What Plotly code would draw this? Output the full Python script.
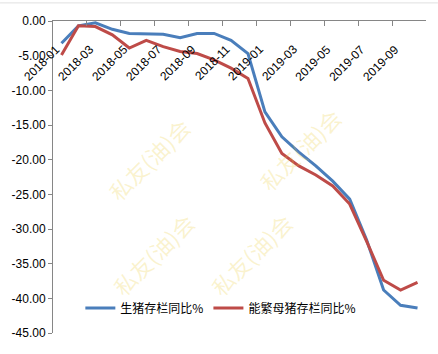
import plotly.graph_objects as go

months = ["2018-01", "2018-02", "2018-03", "2018-04", "2018-05", "2018-06",
          "2018-07", "2018-08", "2018-09", "2018-10", "2018-11", "2018-12",
          "2019-01", "2019-02", "2019-03", "2019-04", "2019-05", "2019-06",
          "2019-07", "2019-08", "2019-09", "2019-10"]
hog = [-3.2, -0.7, -0.25, -1.2, -1.8, -1.8, -1.9, -2.4, -1.8, -1.8, -2.8, -4.7,
       -13.1, -16.7, -18.9, -20.9, -23.1, -25.7, -31.6, -38.8, -41.0, -41.4]
sow = [-4.9, -0.7, -0.8, -2.0, -3.9, -2.8, -3.7, -4.4, -4.7, -5.6, -6.8, -8.3,
       -14.7, -19.1, -20.9, -22.2, -23.8, -26.4, -31.8, -37.4, -38.8, -37.7]
series_names = ["生猪存栏同比%", "能繁母猪存栏同比%"]
y_ticks = [0, -5, -10, -15, -20, -25, -30, -35, -40, -45]
y_labels = ["0.00", "-5.00", "-10.00", "-15.00", "-20.00", "-25.00",
            "-30.00", "-35.00", "-40.00", "-45.00"]
x_label_months = months[::2]

fig = go.Figure()
fig.add_trace(go.Scatter(x=months, y=hog, mode="lines", name=series_names[0],
                         line=dict(color="#4A7EBB", width=3)))
fig.add_trace(go.Scatter(x=months, y=sow, mode="lines", name=series_names[1],
                         line=dict(color="#BE4B48", width=3)))

# category labels below the top axis line, rotated like the original
for m in x_label_months:
    fig.add_annotation(text=m, x=m, y=0, xref="x", yref="y", showarrow=False,
                       textangle=-45, xanchor="right", yanchor="top",
                       xshift=4, yshift=-19,
                       font=dict(family="Liberation Sans", size=12, color="#000000"))

wm_font = dict(family="Noto Sans CJK SC", size=22, color="rgba(235,205,60,0.25)")
for (wx, wy) in [(0.121, 0.721), (0.662, 0.753), (0.134, 0.090), (0.668, 0.090)]:
    fig.add_annotation(text="私友(油)会", xref="paper", yref="paper", x=wx, y=wy,
                       showarrow=False, textangle=-45, font=wm_font)

fig.update_layout(
    width=438, height=354,
    margin=dict(l=53, r=12, t=21, b=21),
    paper_bgcolor="white", plot_bgcolor="white",
    font=dict(family="Liberation Sans", size=12, color="#000000"),
    showlegend=True,
    legend=dict(orientation="h", x=0.45, y=0.08, xanchor="center", yanchor="middle",
                bgcolor="rgba(0,0,0,0)", itemwidth=30,
                font=dict(family="Noto Sans CJK SC", size=12, color="#000000")),
    xaxis=dict(type="category", side="top", tickson="boundaries", dtick=2,
               ticks="inside", ticklen=5, tickcolor="#868686",
               showline=True, linecolor="#868686", linewidth=1,
               showgrid=False, zeroline=False, showticklabels=False,
               range=[-0.5, 21.5]),
    yaxis=dict(range=[-45, 0], tickvals=y_ticks, ticktext=y_labels,
               ticks="outside", ticklen=4, tickcolor="#868686",
               showline=True, linecolor="#868686", linewidth=1,
               showgrid=False, zeroline=False, tickfont=dict(size=12)),
)
fig.add_shape(type="line", xref="paper", yref="paper", x0=-0.142, x1=1.032,
              y0=1.058, y1=1.058, line=dict(color="#E0E0E0", width=1))

fig.write_html("out.html")
